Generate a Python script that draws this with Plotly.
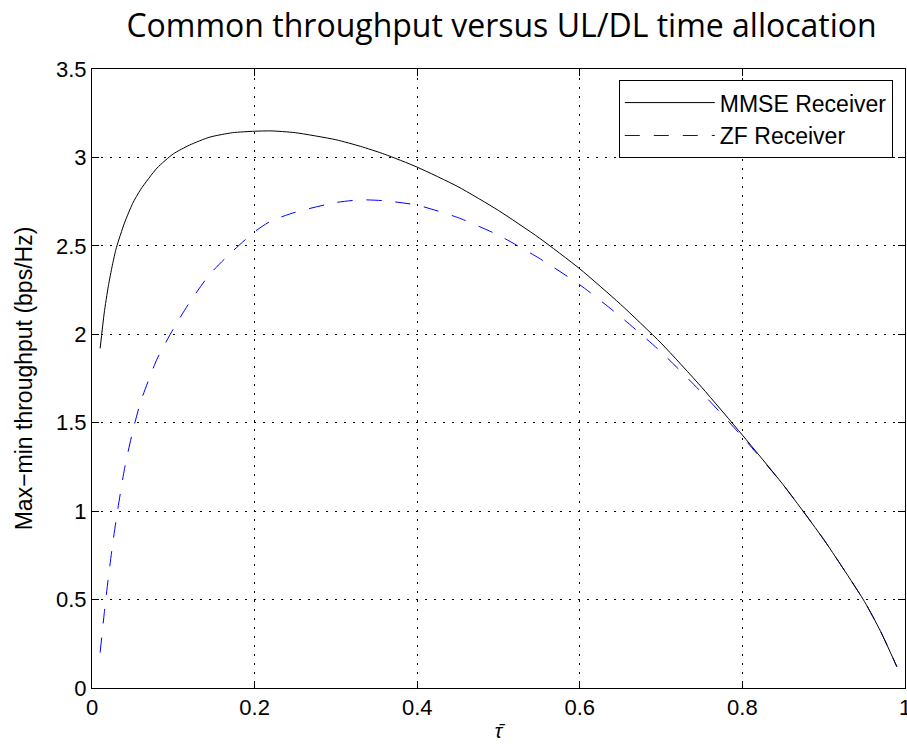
import plotly.graph_objects as go

tau = [0.01, 0.015, 0.02, 0.025, 0.03, 0.04, 0.05, 0.06, 0.08, 0.1, 0.12, 0.145, 0.173, 0.2, 0.22,
       0.25, 0.3, 0.33, 0.36, 0.4, 0.45, 0.5, 0.55, 0.6, 0.65, 0.7, 0.75, 0.8, 0.85, 0.9, 0.95, 0.97, 0.99]
mmse = [1.92, 2.12, 2.27, 2.39, 2.49, 2.63, 2.74, 2.82, 2.94, 3.02, 3.07, 3.115, 3.14, 3.148, 3.15,
        3.14, 3.10, 3.063, 3.018, 2.945, 2.835, 2.70, 2.545, 2.37, 2.17, 1.95, 1.70, 1.43, 1.15, 0.84, 0.49, 0.32, 0.12]
zf = [0.20, 0.42, 0.62, 0.80, 0.96, 1.24, 1.45, 1.62, 1.86, 2.03, 2.18, 2.34, 2.47, 2.58, 2.64,
      2.69, 2.745, 2.76, 2.755, 2.73, 2.66, 2.56, 2.43, 2.28, 2.10, 1.90, 1.67, 1.42, 1.15, 0.84, 0.49, 0.32, 0.12]

xticks = [0, 0.2, 0.4, 0.6, 0.8, 1]
xticklabels = ["0", "0.2", "0.4", "0.6", "0.8", "1"]
yticks = [0, 0.5, 1, 1.5, 2, 2.5, 3, 3.5]
yticklabels = ["0", "0.5", "1", "1.5", "2", "2.5", "3", "3.5"]

fig = go.Figure()
fig.add_trace(go.Scatter(x=tau, y=zf, mode="lines", name="ZF Receiver",
                         line=dict(color="blue", width=1, dash="15px,14px", shape="spline", smoothing=0.6)))
fig.add_trace(go.Scatter(x=tau, y=mmse, mode="lines", name="MMSE Receiver",
                         line=dict(color="black", width=1, shape="spline", smoothing=0.6)))

axis_common = dict(showline=True, linecolor="black", linewidth=1, mirror="ticks",
                   ticks="inside", ticklen=7, tickcolor="black",
                   showgrid=True, gridcolor="black", gridwidth=1, griddash="2px,7px",
                   zeroline=False, ticklabeloverflow="allow", automargin=False,
                   tickfont=dict(family="Liberation Sans", size=22, color="black"))

fig.update_xaxes(range=[0, 1], tickvals=xticks, ticktext=xticklabels,
                 title=dict(text="<i>τ\u0304</i>", font=dict(family="Liberation Sans", size=20, color="black"), standoff=4),
                 **axis_common)
fig.update_yaxes(range=[0, 3.5], tickvals=yticks, ticktext=yticklabels,
                 title=dict(text="Max−min throughput (bps/Hz)", font=dict(family="Liberation Sans", size=23, color="black"), standoff=16),
                 **axis_common)

fig.update_layout(
    width=907, height=745,
    margin=dict(l=92, r=2, t=69, b=57),
    paper_bgcolor="white", plot_bgcolor="white",
    title=dict(text="Common throughput versus UL/DL time allocation",
               font=dict(family="Open Sans", size=32, color="black"),
               x=0.553, xanchor="center", y=0.965, yanchor="middle"),
    legend=dict(x=0.985, xanchor="right", y=0.982, yanchor="top",
                bgcolor="white", bordercolor="black", borderwidth=1,
                font=dict(family="Liberation Sans", size=23, color="black"),
                itemwidth=90, traceorder="reversed"),
    showlegend=True,
)

fig.write_html("out.html")
